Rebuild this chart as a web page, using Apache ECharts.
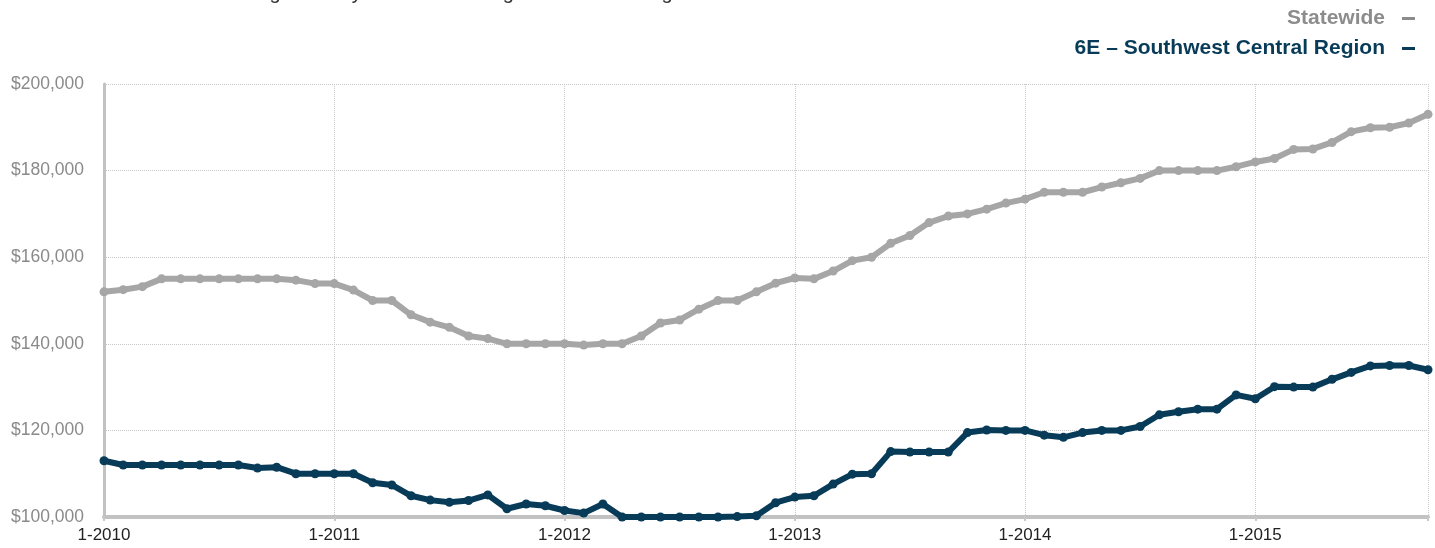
<!DOCTYPE html>
<html>
<head>
<meta charset="utf-8">
<script src="https://cdn.jsdelivr.net/npm/echarts@6/dist/echarts.min.js"></script>
<style>
html,body{margin:0;padding:0;background:#fff;}
#chart{width:1435px;height:548px;}
</style>
</head>
<body>
<div id="chart"></div>
<script>
const categories = [
 '1-2010','2-2010','3-2010','4-2010','5-2010','6-2010','7-2010','8-2010','9-2010','10-2010','11-2010','12-2010',
 '1-2011','2-2011','3-2011','4-2011','5-2011','6-2011','7-2011','8-2011','9-2011','10-2011','11-2011','12-2011',
 '1-2012','2-2012','3-2012','4-2012','5-2012','6-2012','7-2012','8-2012','9-2012','10-2012','11-2012','12-2012',
 '1-2013','2-2013','3-2013','4-2013','5-2013','6-2013','7-2013','8-2013','9-2013','10-2013','11-2013','12-2013',
 '1-2014','2-2014','3-2014','4-2014','5-2014','6-2014','7-2014','8-2014','9-2014','10-2014','11-2014','12-2014',
 '1-2015','2-2015','3-2015','4-2015','5-2015','6-2015','7-2015','8-2015','9-2015','10-2015'
];
const statewide = [
 152000,152500,153200,155000,155000,155000,155000,155000,155000,155000,154700,153900,
 153900,152400,150000,150000,146700,145000,143800,141800,141200,140000,140000,140000,
 140000,139700,140000,140000,141800,144800,145500,148000,150000,150000,152000,154000,
 155200,155000,156800,159200,160000,163200,165000,168000,169500,170000,171100,172500,
 173400,175000,175000,175000,176200,177200,178200,180000,180000,180000,180000,180900,
 182000,182800,184900,185000,186500,189000,189900,190000,191000,193000
];
const region = [
 113000,112000,112000,112000,112000,112000,112000,112000,111300,111500,110000,110000,
 110000,110000,107900,107400,104900,103900,103400,103800,105100,101900,103000,102600,
 101500,100900,103000,100000,100000,100000,100000,100000,100000,100100,100300,103300,
 104600,104900,107600,109900,110000,115100,115000,115000,115000,119500,120100,120000,
 120000,118900,118400,119500,120000,120000,120900,123600,124300,124900,124900,128200,
 127300,130100,130000,130000,131800,133400,134900,135000,135000,134000
];
const yTicks = [100000,120000,140000,160000,180000,200000];
const seriesNames = ['Statewide','6E \u2013 Southwest Central Region'];
const titleText = 'Median Sales Price \u2013 Single-Family Homes \u2013 Rolling 12-Month Average';

const GRAY = '#a6a6a6';
const DARK = '#073b58';
const FONT = 'Liberation Sans, Arial, sans-serif';

const chart = echarts.init(document.getElementById('chart'), null, {renderer:'canvas'});
const pairs = arr => arr.map((v,i)=>[i,v]);

chart.setOption({
  animation:false,
  textStyle:{fontFamily:FONT},
  graphic:[{
    type:'text', left:46, top:-17,
    style:{text:titleText, fill:'#333', font:'20px ' + FONT}
  }],
  legend:{
    orient:'vertical', right:15, top:3, align:'right',
    itemGap:9, itemWidth:13, itemHeight:3, icon:'rect',
    selectedMode:false,
    textStyle:{fontFamily:FONT, fontSize:21, fontWeight:'bold', padding:[0,12,0,0]},
    data:[
      {name:seriesNames[0], textStyle:{color:'#8c8c8c'}, itemStyle:{color:'#8c8c8c'}},
      {name:seriesNames[1], textStyle:{color:DARK}, itemStyle:{color:DARK}}
    ]
  },
  grid:{left:104, right:7, top:84, bottom:31, containLabel:false},
  xAxis:{
    type:'value', min:0, max:categories.length-1, interval:12,
    axisLine:{show:true, lineStyle:{color:'#c2c2c2', width:4}},
    axisTick:{show:true, length:4, lineStyle:{color:'#c8c8c8', width:2}},
    axisLabel:{
      color:'#222', fontSize:17, fontFamily:FONT, margin:10,
      formatter: v => (v % 12 === 0 ? categories[v] : '')
    },
    splitLine:{show:true, lineStyle:{color:'#c8c8c8', type:'dotted', width:1}}
  },
  yAxis:{
    type:'value', min:yTicks[0], max:yTicks[yTicks.length-1], interval:yTicks[1]-yTicks[0],
    axisLine:{show:true, lineStyle:{color:'#c2c2c2', width:3}},
    axisTick:{show:false},
    axisLabel:{
      color:'#8a8a8a', fontSize:17.5, fontFamily:FONT, margin:20,
      formatter: v => '$' + v.toLocaleString('en-US')
    },
    splitLine:{show:true, lineStyle:{color:'#c8c8c8', type:'dotted', width:1}}
  },
  series:[
    {
      name:seriesNames[0], type:'line', data:pairs(statewide), clip:false,
      symbol:'circle', symbolSize:9, showSymbol:true,
      lineStyle:{color:GRAY, width:6}, itemStyle:{color:GRAY}
    },
    {
      name:seriesNames[1], type:'line', data:pairs(region), clip:false,
      symbol:'circle', symbolSize:9, showSymbol:true,
      lineStyle:{color:DARK, width:6}, itemStyle:{color:DARK}
    }
  ]
});
</script>
</body>
</html>
